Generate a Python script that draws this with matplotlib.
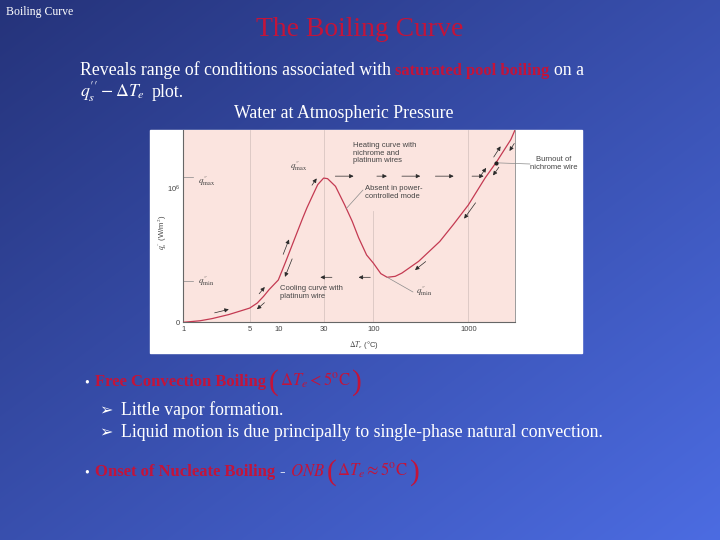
import numpy as np
import matplotlib
matplotlib.use("Agg")
import matplotlib.pyplot as plt
from matplotlib.patches import Rectangle

plt.rcParams['mathtext.fontset'] = 'stix'

# boiling curve (heat flux as a fraction of the axis height)
dT = [1, 1.5, 2, 3, 4, 5, 6, 7, 8, 10, 12, 15, 18, 20, 23, 26, 30, 33, 40, 50, 60,
      70, 85, 100, 120, 140, 170, 200, 300, 500, 700, 1000, 1500, 2000, 2800, 3100]
q = [0.0, 0.008, 0.019, 0.04, 0.059, 0.074, 0.10, 0.135, 0.17, 0.22, 0.317, 0.44,
     0.54, 0.595, 0.66, 0.716, 0.75, 0.747, 0.707, 0.61, 0.525, 0.44, 0.35, 0.308,
     0.253, 0.234, 0.239, 0.256, 0.317, 0.42, 0.51, 0.61, 0.75, 0.837, 0.95, 1.0]

x_ticks = [1, 5, 10, 30, 100, 1000]
x_tick_labels = ['1', '5', '10', '30', '100', '1000']
q_1e6 = 0.70          # where the 10^6 label sits
grid_x = [5, 30, 100, 1000]

# little arrows (start dT, end dT)
heat_arrows = [(39.8, 62), (109, 139), (200, 312), (450, 701), (1094, 1450)]
cool_arrows = [(36.7, 27.7), (93, 70)]
curve_arrows = [(2.2, 3.1), (6.6, 5.5), (6.9, 7.9), (12.5, 10.5), (12.6, 14.5),
                (25, 28), (2050, 2420), (2750, 2450), (1480, 1700), (1900, 1650),
                (1080, 820), (330, 255)]
dT_burnout = 1950

red = '#c3143a'
curve_col = '#c43a52'
txt_col = '#444444'
QS = r"q^{\prime\prime}"

fig = plt.figure(figsize=(7.2, 5.4), dpi=100)
r = fig.canvas.get_renderer()

# slide background
bg = fig.add_axes([0, 0, 1, 1])
bg.set_xlim(0, 720)
bg.set_ylim(540, 0)
bg.axis('off')
yy, xx = np.mgrid[0:540, 0:720]
t = 0.5 * xx / 720 + 0.5 * yy / 540
c0 = np.array([37, 51, 122]) / 255
c1 = np.array([76, 108, 226]) / 255
img = c0 + t[..., None] * (c1 - c0)
bg.imshow(img, extent=(0, 720, 540, 0), aspect='auto')
bg.add_patch(Rectangle((150, 130), 432, 223, color='white', zorder=2))


def put(x, y, s, **kw):
    kw.setdefault('family', 'Liberation Serif')
    kw.setdefault('color', 'white')
    kw.setdefault('fontsize', 12.8)
    tx = bg.text(x, y, s, va='baseline', zorder=3, **kw)
    return tx.get_window_extent(r).x1


put(6, 15, 'Boiling Curve', fontsize=8.5)
bg.text(360, 36, 'The Boiling Curve', ha='center', va='baseline', color=red,
        family='Liberation Serif', fontsize=19.9)

x = put(80, 75, 'Reveals range of conditions associated with')
x = put(x + 4, 75, 'saturated pool boiling', color=red, weight='bold', fontsize=12)
put(x + 5, 75, 'on a')
x = put(80, 97, '$' + QS + r'_s - \mathit{\Delta T_e}$')
put(x + 7, 97, 'plot.')
put(234, 118, 'Water at Atmospheric Pressure')

put(84, 386, '\u2022', fontsize=10)
x = put(95, 386, 'Free Convection Boiling', color=red, weight='bold', fontsize=12)
x = put(x + 3, 390, '(', color=red, fontsize=21)
x = put(x + 1, 386, r'$\mathit{\Delta} T_e < 5^{\mathrm{o}}\mathrm{C}$', color=red, fontsize=12)
put(x + 1, 390, ')', color=red, fontsize=21)

put(99, 415, '\u27a2', family='DejaVu Sans', fontsize=11.5)
put(121, 415, 'Little vapor formation.')
put(99, 437, '\u27a2', family='DejaVu Sans', fontsize=11.5)
put(121, 437, 'Liquid motion is due principally to single-phase natural convection.')

put(84, 476, '\u2022', fontsize=10)
x = put(95, 476, 'Onset of Nucleate Boiling', color=red, weight='bold', fontsize=12)
x = put(x + 4, 476, '-', fontsize=12)
x = put(x + 5, 476, r'$ONB$', color=red, fontsize=12)
x = put(x + 2, 480, '(', color=red, fontsize=21)
x = put(x + 1, 476, r'$\mathit{\Delta} T_e \approx 5^{\mathrm{o}}\mathrm{C}$', color=red, fontsize=12)
put(x + 1, 480, ')', color=red, fontsize=21)

# the boiling curve plot
ax = fig.add_axes([183.3 / 720, (540 - 322.3) / 540, (515 - 183.3) / 720, (322.3 - 130) / 540])
ax.set_facecolor('#fbe4df')
ax.set_xscale('log')
ax.set_xlim(1, 3100)
ax.set_ylim(0, 1)
for g in grid_x:
    ax.axvline(g, color='#d9c6c2', lw=0.6, ymax=0.58 if g == 100 else 1, zorder=0)
ax.plot(dT, q, color=curve_col, lw=0.9, zorder=3)

ax.set_xticks(x_ticks)
ax.set_xticklabels(x_tick_labels)
ax.minorticks_off()
ax.set_yticks([0, q_1e6])
ax.set_yticklabels(['0', r'$\mathregular{10^6}$'])
ax.tick_params(length=0, labelsize=5.5, labelcolor=txt_col, pad=2.5)
for lab in ax.get_xticklabels() + ax.get_yticklabels():
    lab.set_family('Liberation Sans')
ax.spines['top'].set_visible(False)
for s in ['left', 'bottom']:
    ax.spines[s].set_color('#666666')
    ax.spines[s].set_linewidth(0.8)
ax.spines['right'].set_color('#8a8a8a')
ax.spines['right'].set_linewidth(0.6)

lx = np.log10(dT)


def curve_y(v):
    return np.interp(np.log10(v), lx, q)


i_peak = int(np.argmax(q[:20]))
q_peak = q[i_peak]
i_min = int(np.argmin(q[i_peak:30])) + i_peak
q_min = q[i_min]

arr = dict(arrowstyle='-|>', color='#2a2a2a', lw=0.5, mutation_scale=6,
           shrinkA=0, shrinkB=0)
for a, b in curve_arrows:
    p0 = ax.transData.transform((a, curve_y(a)))
    p1 = ax.transData.transform((b, curve_y(b)))
    d = p1 - p0
    n = np.array([-d[1], d[0]]) / np.hypot(*d) * 5
    ax.annotate('', xy=p1 + n, xytext=p0 + n, xycoords='figure pixels',
                textcoords='figure pixels', arrowprops=arr)
for a, b in heat_arrows:
    ax.annotate('', xy=(b, q_peak + 0.01), xytext=(a, q_peak + 0.01), arrowprops=arr)
for a, b in cool_arrows:
    ax.annotate('', xy=(b, q_min), xytext=(a, q_min), arrowprops=arr)

# burnout point and leaders
lead = dict(arrowstyle='-', color='#8a8a8a', lw=0.5, shrinkA=0, shrinkB=0)
ax.plot([dT_burnout], [curve_y(dT_burnout)], 'o', color='#222222', ms=2, zorder=4)
ax.annotate('', xy=(dT_burnout, curve_y(dT_burnout)), xytext=(530, 164),
            textcoords=bg.transData, arrowprops=lead, annotation_clip=False)
ax.annotate('', xy=(52, curve_y(52)), xytext=(363, 190),
            textcoords=bg.transData, arrowprops=lead)
ax.annotate('', xy=(dT[i_min], q_min), xytext=(413, 292),
            textcoords=bg.transData, arrowprops=lead)

ty = ax.get_yaxis_transform()
ax.plot([0, 0.03], [q_peak + 0.005] * 2, color='#888888', lw=0.5, transform=ty)
ax.plot([0, 0.03], [q_min - 0.02] * 2, color='#888888', lw=0.5, transform=ty)

lbl = dict(family='Liberation Sans', fontsize=5.5, color=txt_col, transform=bg.transData,
           linespacing=1.15)
ax.text(353, 142, 'Heating curve with\nnichrome and\nplatinum wires', va='top', **lbl)
ax.text(365, 185, 'Absent in power-\ncontrolled mode', va='top', **lbl)
ax.text(554, 156, 'Burnout of\nnichrome wire', va='top', ha='center', **lbl)
ax.text(280, 285, 'Cooling curve with\nplatinum wire', va='top', **lbl)
ax.text(364, 345, r'$\Delta T_e$ (°C)', ha='center', va='center', **lbl)
ax.text(162, 232, '$' + QS + r'_s$ (W/m$^2$)', ha='center', va='center', rotation=90, **lbl)

ql = dict(fontsize=6.5, color=txt_col, transform=bg.transData, va='center')
ax.text(290, 166, '$' + QS + r'_{\rm max}$', **ql)
ax.text(198, 181, '$' + QS + r'_{\rm max}$', **ql)
ax.text(198, 281, '$' + QS + r'_{\rm min}$', **ql)
ax.text(416, 291, '$' + QS + r'_{\rm min}$', **ql)

fig.savefig('out.png', dpi=100)
